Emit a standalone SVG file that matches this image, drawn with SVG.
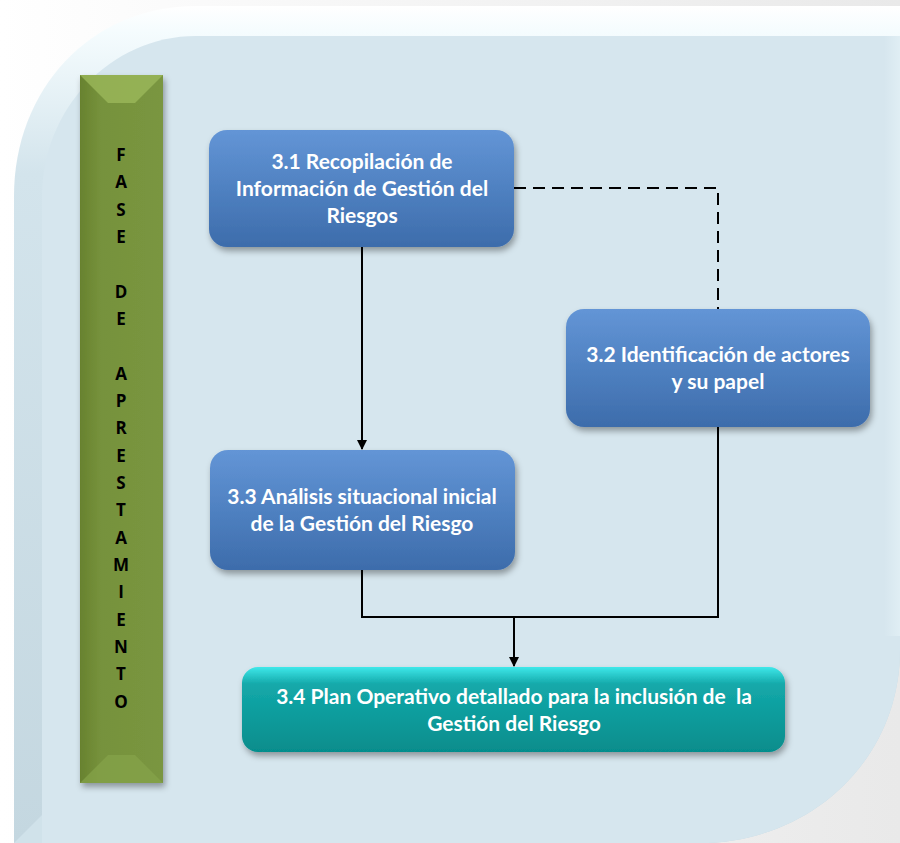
<svg xmlns="http://www.w3.org/2000/svg" width="900" height="843" viewBox="0 0 900 843">
<defs>
<linearGradient id="bgOut" x1="0" y1="0" x2="1" y2="0"><stop offset="0" stop-color="#ffffff"/><stop offset="0.5" stop-color="#f4f4f4"/><stop offset="1" stop-color="#e9e9e9"/></linearGradient>
<linearGradient id="outerG" x1="0" y1="0" x2="0" y2="1"><stop offset="0" stop-color="#ffffff"/><stop offset="0.03" stop-color="#f5fcfe"/><stop offset="0.2" stop-color="#d3e4ec"/><stop offset="1" stop-color="#c4d7e0"/></linearGradient>
<linearGradient id="rightBand" x1="0" y1="0" x2="1" y2="0"><stop offset="0" stop-color="#d6e6ee"/><stop offset="1" stop-color="#e0eef4"/></linearGradient>
<linearGradient id="blue" x1="0" y1="0" x2="0" y2="1"><stop offset="0" stop-color="#6395d6"/><stop offset="0.5" stop-color="#4f81c1"/><stop offset="1" stop-color="#3d6cab"/></linearGradient>
<linearGradient id="teal" x1="0" y1="0" x2="0" y2="1"><stop offset="0" stop-color="#3ee8ea"/><stop offset="0.2" stop-color="#14a9aa"/><stop offset="1" stop-color="#068d8c"/></linearGradient>
<linearGradient id="green" x1="0" y1="0" x2="1" y2="0"><stop offset="0" stop-color="#68822f"/><stop offset="0.25" stop-color="#76923c"/><stop offset="1" stop-color="#7a9640"/></linearGradient>
<filter id="sh" x="-10%" y="-10%" width="120%" height="130%"><feDropShadow dx="2" dy="4" stdDeviation="3" flood-color="#000" flood-opacity="0.35"/></filter>
<marker id="arr" markerWidth="10" markerHeight="10" refX="9" refY="5" orient="auto" markerUnits="userSpaceOnUse"><path d="M0,0 L10,5 L0,10 Z" fill="#000"/></marker>
<style>
.bt{font-family:Lato,"Open Sans","Liberation Sans",sans-serif;font-weight:bold;font-size:21px;fill:#ffffff;text-anchor:middle}
.lt{font-family:"Open Sans",Lato,"Liberation Sans",sans-serif;font-weight:bold;font-size:17px;fill:#000;text-anchor:middle}
.ln{fill:none;stroke:#000;stroke-width:2}
</style>
</defs>
<rect width="900" height="843" fill="url(#bgOut)"/>
<g id="background">
<path d="M14,196 C14,90 90,6 196,6 L900,6 L900,650 C900,760 810,843 700,843 L14,843 Z" fill="url(#outerG)"/>
<path d="M42,196 C42,110 110,36 196,36 L900,36 L900,650 C900,760 810,843 700,843 L42,843 Z" fill="#d6e6ee"/>
<rect x="884" y="36" width="16" height="600" fill="url(#rightBand)"/>
<path d="M14,843 L42,815 L42,843 Z" fill="#d0e2ea"/>
</g>
<g id="phase-bar">
<rect x="80" y="75" width="83" height="708" fill="url(#green)" filter="url(#sh)"/>
<path d="M80,75 L163,75 L135,103 L108,103 Z" fill="#9bb85a" opacity="0.8"/>
<path d="M80,783 L163,783 L135,755 L108,755 Z" fill="#86a44a" opacity="0.7"/>
<g class="lt">
<text x="121" y="161">F</text><text x="121" y="188">A</text><text x="121" y="216">S</text><text x="121" y="243">E</text>
<text x="121" y="298">D</text><text x="121" y="325">E</text>
<text x="121" y="380">A</text><text x="121" y="407">P</text><text x="121" y="434">R</text><text x="121" y="462">E</text><text x="121" y="489">S</text><text x="121" y="516">T</text><text x="121" y="544">A</text><text x="121" y="571">M</text><text x="121" y="598">I</text><text x="121" y="626">E</text><text x="121" y="653">N</text><text x="121" y="680">T</text><text x="121" y="708">O</text>
</g>
</g>
<g id="connectors">
<path class="ln" d="M514,188 L718,188 L718,309" stroke-dasharray="12,7"/>
<path class="ln" d="M362,247 L362,449" marker-end="url(#arr)"/>
<path class="ln" d="M362,570 L362,617 L718,617 L718,427"/>
<path class="ln" d="M514,617 L514,666" marker-end="url(#arr)"/>
</g>
<g id="node-3-1">
<rect x="209" y="130" width="305" height="117" rx="18" fill="url(#blue)" filter="url(#sh)"/>
<text class="bt" x="362" y="169">3.1 Recopilación de</text>
<text class="bt" x="362" y="196">Información de Gestión del</text>
<text class="bt" x="362" y="223">Riesgos</text>
</g>
<g id="node-3-2">
<rect x="566" y="309" width="304" height="118" rx="18" fill="url(#blue)" filter="url(#sh)"/>
<text class="bt" x="718" y="362">3.2 Identificación de actores</text>
<text class="bt" x="718" y="389">y su papel</text>
</g>
<g id="node-3-3">
<rect x="210" y="450" width="305" height="120" rx="18" fill="url(#blue)" filter="url(#sh)"/>
<text class="bt" x="362" y="504">3.3 Análisis situacional inicial</text>
<text class="bt" x="362" y="531">de la Gestión del Riesgo</text>
</g>
<g id="node-3-4">
<rect x="242" y="667" width="543" height="85" rx="16" fill="url(#teal)" filter="url(#sh)"/>
<text class="bt" x="514" y="704" xml:space="preserve">3.4 Plan Operativo detallado para la inclusión de  la</text>
<text class="bt" x="514" y="731">Gestión del Riesgo</text>
</g>
</svg>
